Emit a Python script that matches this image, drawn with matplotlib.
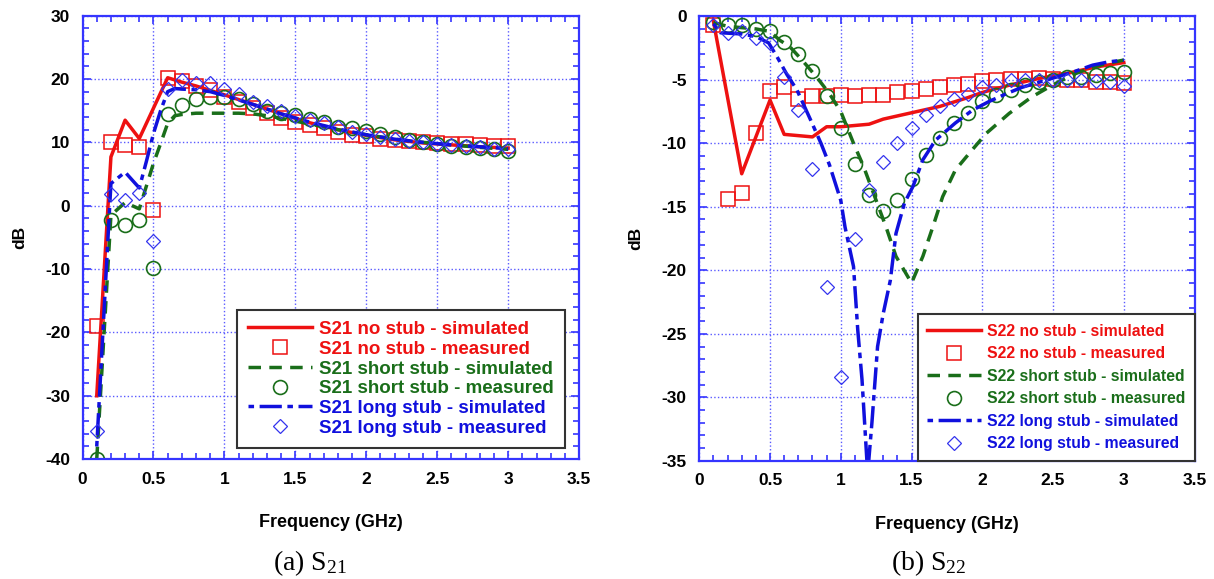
import numpy as np
import matplotlib
matplotlib.use('Agg')
import matplotlib.pyplot as plt
from matplotlib.ticker import MultipleLocator

plt.rcParams['font.family'] = ['Liberation Sans', 'DejaVu Sans']
plt.rcParams['font.weight'] = 'bold'
plt.rcParams['axes.unicode_minus'] = False
plt.rcParams['mathtext.fontset'] = 'custom'
plt.rcParams['mathtext.rm'] = 'Liberation Serif:normal'
plt.rcParams['mathtext.it'] = 'Liberation Serif:normal'
plt.rcParams['mathtext.bf'] = 'Liberation Serif:normal'
plt.rcParams['lines.scale_dashes'] = False

# measured points (GHz)
f_meas = [0.1, 0.2, 0.3, 0.4, 0.5, 0.6, 0.7, 0.8, 0.9, 1.0,
          1.1, 1.2, 1.3, 1.4, 1.5, 1.6, 1.7, 1.8, 1.9, 2.0,
          2.1, 2.2, 2.3, 2.4, 2.5, 2.6, 2.7, 2.8, 2.9, 3.0]

# ---- S21 ----
s21_none_meas = [-19, 10.0, 9.6, 9.2, -0.7, 20.1, 19.7, 18.9, 18.2, 17.2,
                 16.4, 15.4, 14.6, 13.9, 13.2, 12.7, 12.2, 11.7, 11.2, 11.0,
                 10.6, 10.4, 10.2, 10.0, 9.9, 9.8, 9.7, 9.6, 9.5, 9.4]
s21_short_meas = [-40, -2.2, -3.1, -2.2, -9.9, 14.4, 15.9, 16.8, 17.2, 17.2,
                  16.8, 16.0, 15.0, 14.7, 14.3, 13.7, 13.2, 12.5, 12.3, 11.8,
                  11.3, 10.8, 10.4, 10.1, 9.8, 9.5, 9.3, 9.1, 8.9, 8.7]
s21_long_meas = [-35.5, 1.9, 0.9, 2.0, -5.6, 18.4, 19.8, 19.4, 19.3, 18.4,
                 17.6, 16.4, 15.8, 14.9, 14.1, 13.6, 13.0, 12.5, 11.7, 11.3,
                 10.8, 10.5, 10.2, 10.0, 9.8, 9.6, 9.4, 9.2, 9.0, 8.9]

f21_none_sim = [0.1, 0.2, 0.3, 0.4, 0.5, 0.6, 0.7, 0.8, 0.9, 1.0,
                1.2, 1.4, 1.6, 1.8, 2.0, 2.2, 2.4, 2.6, 2.8, 3.0]
s21_none_sim = [-30, 7.7, 13.5, 10.6, 15.4, 20.2, 19.5, 18.9, 18.2, 17.5,
                16.0, 14.5, 13.1, 12.0, 11.1, 10.4, 9.9, 9.6, 9.3, 9.1]
f21_short_sim = [0.1, 0.2, 0.3, 0.4, 0.5, 0.55, 0.6, 0.65, 0.7, 0.8, 0.9, 1.0,
                 1.1, 1.2, 1.3, 1.4, 1.6, 1.8, 2.0, 2.2, 2.4, 2.6, 2.8, 3.0]
s21_short_sim = [-40, -1.5, 0.5, -0.5, 6.7, 9.8, 13.0, 14.2, 14.4, 14.6, 14.6, 14.6,
                 14.6, 14.5, 14.2, 13.8, 12.9, 12.0, 11.2, 10.5, 10.0, 9.6, 9.2, 8.9]
f21_long_sim = [0.1, 0.2, 0.3, 0.4, 0.45, 0.5, 0.55, 0.6, 0.65, 0.7, 0.8, 0.9, 1.0,
                1.2, 1.4, 1.6, 1.8, 2.0, 2.2, 2.4, 2.6, 2.8, 3.0]
s21_long_sim = [-38, 3.5, 5.3, 2.8, 7.0, 11.4, 15.0, 18.0, 18.5, 18.4, 18.3, 18.0, 17.4,
                16.0, 14.5, 13.2, 12.1, 11.2, 10.5, 10.0, 9.6, 9.3, 9.0]

# ---- S22 ----
s22_none_meas = [-0.7, -14.4, -13.9, -9.2, -5.9, -5.6, -6.5, -6.3, -6.3, -6.2,
                 -6.3, -6.2, -6.2, -6.0, -5.9, -5.7, -5.6, -5.4, -5.3, -5.1,
                 -5.0, -4.95, -4.95, -4.9, -4.95, -5.0, -5.05, -5.15, -5.2, -5.25]
s22_short_meas = [-0.45, -0.7, -0.7, -1.0, -1.2, -2.0, -3.0, -4.3, -6.3, -8.8,
                  -11.6, -14.1, -15.3, -14.5, -12.8, -10.9, -9.6, -8.4, -7.6, -6.7,
                  -6.2, -5.8, -5.4, -5.2, -5.0, -4.8, -4.8, -4.6, -4.45, -4.4]
s22_long_meas = [-0.7, -1.3, -1.2, -1.75, -2.1, -4.8, -7.4, -12.0, -21.3, -28.4,
                 -17.5, -13.7, -11.5, -10.0, -8.8, -7.8, -7.1, -6.55, -6.1, -5.6,
                 -5.4, -5.0, -5.0, -5.0, -5.0, -5.0, -5.0, -5.1, -5.2, -5.5]

f22_none_sim = [0.1, 0.3, 0.5, 0.6, 0.8, 0.9, 1.0, 1.1, 1.2, 1.3,
                1.5, 1.7, 1.9, 2.0, 2.2, 2.4, 2.6, 2.8, 3.0]
s22_none_sim = [-0.4, -12.4, -6.6, -9.3, -9.5, -8.7, -8.7, -8.6, -8.5, -8.1,
                -7.6, -7.1, -6.4, -6.0, -5.4, -4.9, -4.5, -4.0, -3.65]
f22_short_sim = [0.1, 0.2, 0.3, 0.4, 0.5, 0.57, 0.64, 0.73, 0.83, 0.92, 1.0, 1.09,
                 1.16, 1.25, 1.32, 1.39, 1.5, 1.58, 1.65, 1.72, 1.81, 1.93, 2.03,
                 2.19, 2.35, 2.5, 2.64, 2.78, 2.89, 3.0]
s22_short_sim = [-0.5, -0.8, -0.9, -1.0, -1.2, -1.9, -2.4, -3.5, -4.8, -6.1, -7.5, -10.0,
                 -11.8, -14.5, -16.6, -18.9, -21.0, -18.9, -16.6, -14.2, -12.1, -10.5, -9.2,
                 -7.65, -6.35, -5.4, -4.6, -4.0, -3.7, -3.45]
f22_long_sim = [0.1, 0.15, 0.3, 0.4, 0.49, 0.55, 0.62, 0.69, 0.78, 0.86, 0.92, 1.0,
                1.03, 1.09, 1.12, 1.15, 1.19, 1.22, 1.26, 1.3, 1.35, 1.39, 1.45, 1.51,
                1.58, 1.67, 1.81, 1.93, 2.05, 2.17, 2.28, 2.4, 2.52, 2.64, 2.78, 2.89, 3.0]
s22_long_sim = [-0.6, -1.3, -1.4, -1.6, -2.1, -3.2, -4.6, -5.8, -8.0, -10.0, -11.7, -14.5,
                -16.6, -19.7, -24.7, -28.6, -36.0, -32.0, -26.0, -23.4, -20.8, -17.1, -14.7, -13.4,
                -11.3, -9.75, -8.4, -7.4, -6.7, -6.1, -5.6, -5.2, -4.8, -4.4, -3.85, -3.6, -3.45]

RED = '#ee1111'
GREEN = '#1a6e1a'
BLUE = '#1010dd'
FRAME = '#3535ff'


def draw(ax, name, sims, meas, ylim, ymaj, ymin_, legfs, legsp, legpos):
    (fn, sn), (fs, ss), (fl, sl) = sims
    mn, ms, ml = meas
    ax.plot(fn, sn, color=RED, lw=2.5, label=name + ' no stub - simulated')
    ax.plot(f_meas, mn, ls='none', marker='s', ms=10, mfc='none', mec=RED,
            mew=1.1, color=RED, label=name + ' no stub - measured')
    ax.plot(fs, ss, color=GREEN, lw=2.5, dashes=(9, 6),
            label=name + ' short stub - simulated')
    ax.plot(f_meas, ms, ls='none', marker='o', ms=10, mfc='none', mec=GREEN,
            mew=1.2, color=GREEN, label=name + ' short stub - measured')
    ax.plot(fl, sl, color=BLUE, lw=2.5, dashes=(4, 4, 16, 4),
            label=name + ' long stub - simulated')
    ax.plot(f_meas, ml, ls='none', marker='D', ms=7.5, mfc='none', mec='#3333ee',
            mew=0.9, color=BLUE, label=name + ' long stub - measured')

    ax.set_xlim(0, 3.5)
    ax.set_ylim(*ylim)
    ax.xaxis.set_major_locator(MultipleLocator(0.5))
    ax.xaxis.set_minor_locator(MultipleLocator(0.1))
    ax.yaxis.set_major_locator(MultipleLocator(ymaj))
    ax.yaxis.set_minor_locator(MultipleLocator(ymin_))
    ax.xaxis.set_major_formatter(plt.FuncFormatter(lambda v, p: '%g' % v))
    ax.grid(True, which='major', color='#5a5aff', ls=':', lw=1.0)
    for sp in ax.spines.values():
        sp.set_color(FRAME)
        sp.set_linewidth(1.6)
    ax.tick_params(which='both', direction='in', top=True, right=True,
                   color=FRAME, labelsize=12.5, width=1.2)
    ax.tick_params(which='major', length=6)
    ax.tick_params(axis='x', which='major', pad=9)
    ax.tick_params(axis='y', which='major', pad=9)
    ax.tick_params(which='minor', length=4)
    ax.set_ylabel('dB', fontsize=12.5, fontweight='bold', labelpad=13)
    ax.set_xlabel('Frequency (GHz)', fontsize=13, fontweight='bold', labelpad=20)

    leg = ax.legend(loc='lower right', bbox_to_anchor=legpos,
                    labelcolor='linecolor', frameon=True, fancybox=False,
                    handlelength=3.4, handletextpad=0.4, labelspacing=legsp,
                    borderpad=0.6, borderaxespad=0, prop={'weight': 'bold', 'size': legfs})
    leg.get_frame().set_edgecolor('#333333')
    leg.get_frame().set_linewidth(1.5)
    leg.get_frame().set_alpha(1)


fig = plt.figure(figsize=(12.14, 5.79), dpi=100)
ax1 = fig.add_axes([0.068, 0.207, 0.409, 0.766])
ax2 = fig.add_axes([0.576, 0.204, 0.408, 0.768])

draw(ax1, 'S21',
     [(f21_none_sim, s21_none_sim), (f21_short_sim, s21_short_sim), (f21_long_sim, s21_long_sim)],
     [s21_none_meas, s21_short_meas, s21_long_meas],
     (-40, 30), 10, 2, 13.5, 0.14, (0.972, 0.025))
draw(ax2, 'S22',
     [(f22_none_sim, s22_none_sim), (f22_short_sim, s22_short_sim), (f22_long_sim, s22_long_sim)],
     [s22_none_meas, s22_short_meas, s22_long_meas],
     (-35, 0), 5, 1, 11.3, 0.48, (1.0, 0.0))

fig.text(0.255, 0.015, r'(a) S$_{21}$', fontsize=20, fontweight='normal',
         family='Liberation Serif', ha='center', va='baseline')
fig.text(0.765, 0.015, r'(b) S$_{22}$', fontsize=20, fontweight='normal',
         family='Liberation Serif', ha='center', va='baseline')

fig.savefig('out.png', dpi=100)
